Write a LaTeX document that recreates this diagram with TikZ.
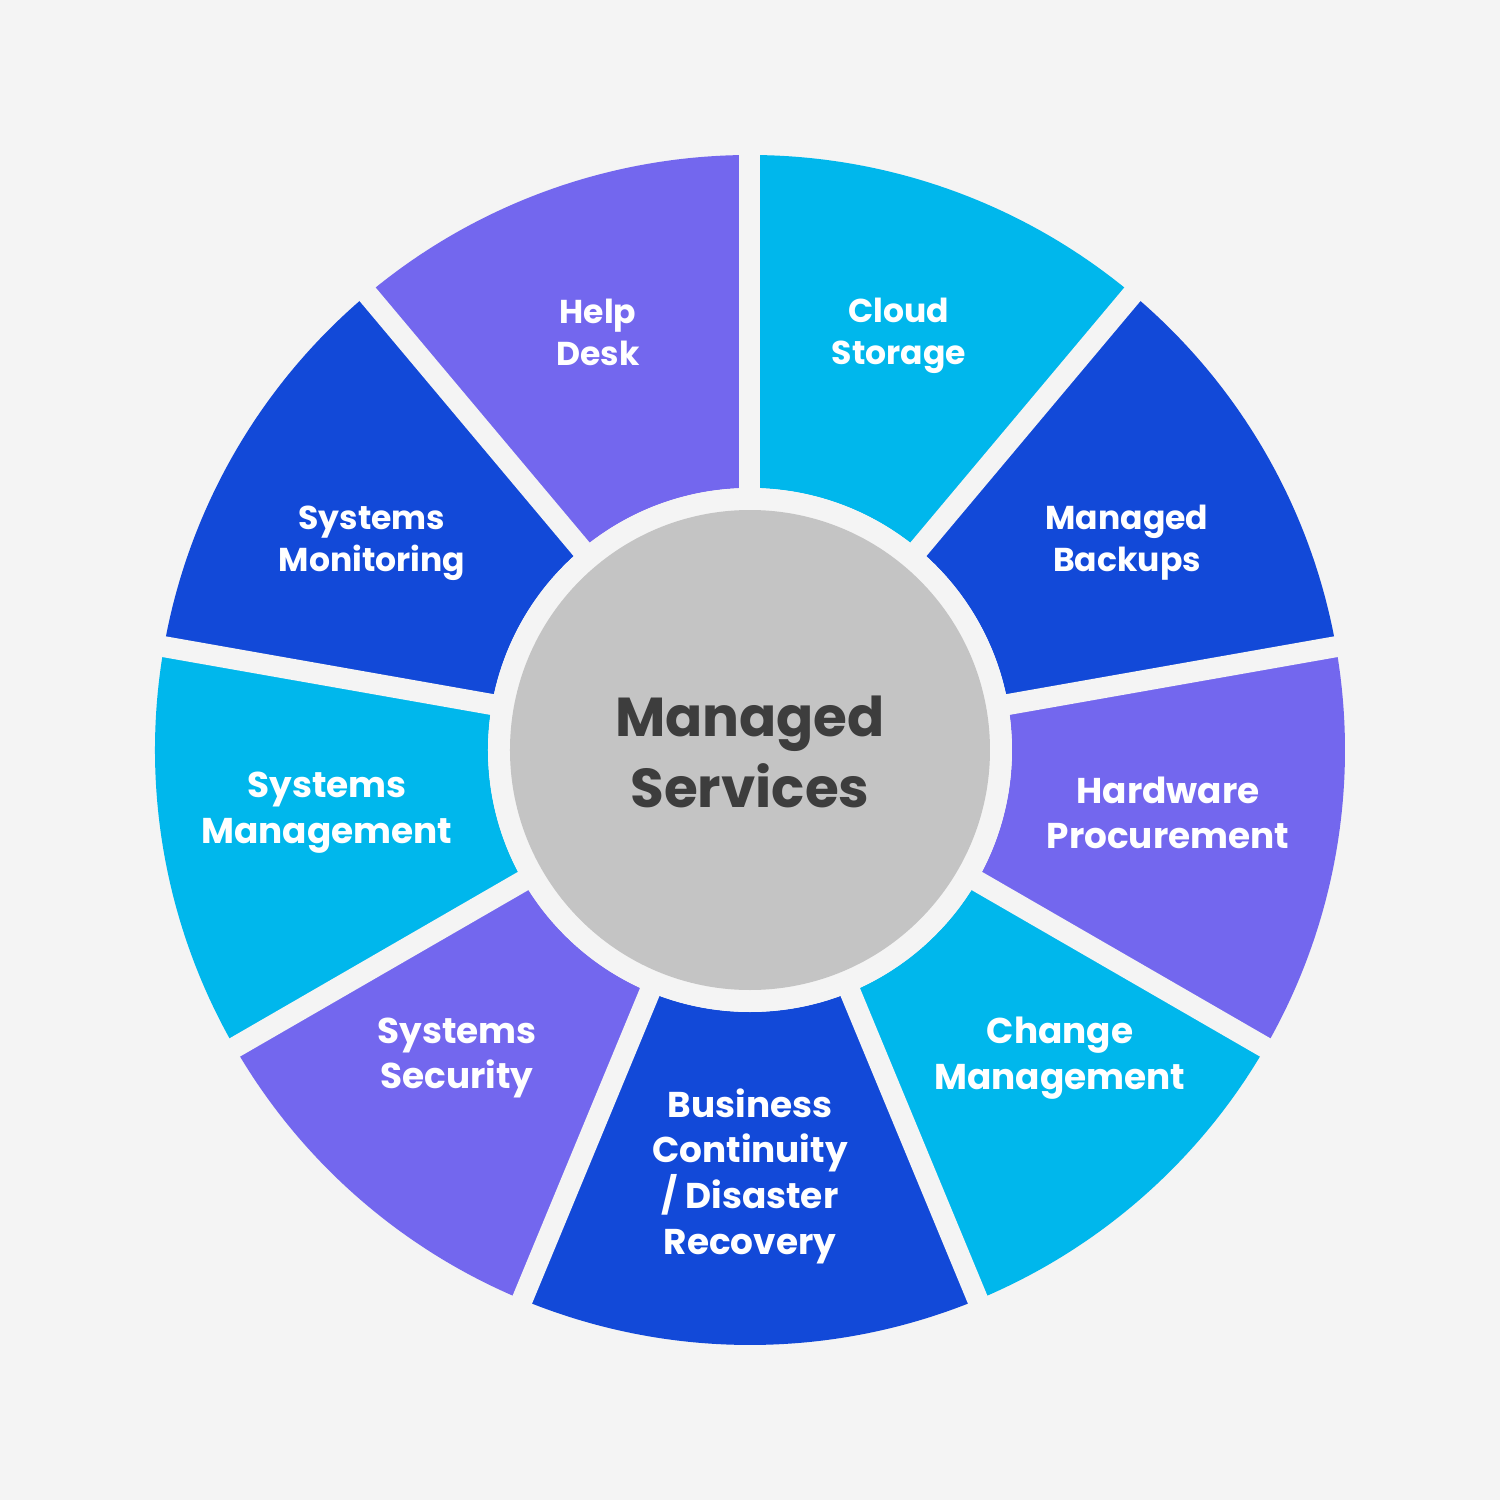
\documentclass[tikz,border=0pt]{standalone}
\usepackage{fontspec}
\setmainfont{Poppins}
\usepackage{tikz}
\usetikzlibrary{positioning,calc}
\definecolor{msBg}    {RGB}{244, 244, 244}
\definecolor{msPurple}{RGB}{115, 103, 238}
\definecolor{msCyan}  {RGB}{0,   183, 236}
\definecolor{msBlue}  {RGB}{18,   73, 216}
\definecolor{msGray}  {RGB}{196, 196, 196}
\definecolor{msText}  {RGB}{61,   61,  61}

\begin{document}
\begin{tikzpicture}[
    upperlabel/.style={font=\bfseries\fontsize{9.4}{11.9}\selectfont,text=white,align=center},
    lowerlabel/.style={font=\bfseries\fontsize{10.2}{13}\selectfont,text=white,align=center}]
        % Fundo
        \fill[msBg] (-7.5,-7.5) rectangle (7.5,7.5);
        % Setores do anel
        \fill[msCyan]   (90:5.95) arc[start angle=90,end angle=50,radius=5.95]
          -- (50:2.62) arc[start angle=50,end angle=90,radius=2.62] -- cycle;
        \fill[msBlue]   (50:5.95) arc[start angle=50,end angle=10,radius=5.95]
          -- (10:2.62) arc[start angle=10,end angle=50,radius=2.62] -- cycle;
        \fill[msPurple] (10:5.95) arc[start angle=10,end angle=-30,radius=5.95]
          -- (-30:2.62) arc[start angle=-30,end angle=10,radius=2.62] -- cycle;
        \fill[msCyan]   (-30:5.95) arc[start angle=-30,end angle=-67.5,radius=5.95]
          -- (-67.5:2.62) arc[start angle=-67.5,end angle=-30,radius=2.62] -- cycle;
        \fill[msBlue]   (-67.5:5.95) arc[start angle=-67.5,end angle=-112.5,radius=5.95]
          -- (-112.5:2.62) arc[start angle=-112.5,end angle=-67.5,radius=2.62] -- cycle;
        \fill[msPurple] (-112.5:5.95) arc[start angle=-112.5,end angle=-150,radius=5.95]
          -- (-150:2.62) arc[start angle=-150,end angle=-112.5,radius=2.62] -- cycle;
        \fill[msCyan]   (-150:5.95) arc[start angle=-150,end angle=-190,radius=5.95]
          -- (-190:2.62) arc[start angle=-190,end angle=-150,radius=2.62] -- cycle;
        \fill[msBlue]   (170:5.95) arc[start angle=170,end angle=130,radius=5.95]
          -- (130:2.62) arc[start angle=130,end angle=170,radius=2.62] -- cycle;
        \fill[msPurple] (130:5.95) arc[start angle=130,end angle=90,radius=5.95]
          -- (90:2.62) arc[start angle=90,end angle=130,radius=2.62] -- cycle;
        % Separadores
        \foreach \a in {90,50,10,-30,-67.5,-112.5,-150,-190,130}
          \draw[msBg,line width=2.1mm] (0,0) -- (\a:6.2);
        % Circulo central
        \fill[msBg] (0,0) circle (2.62);
        \fill[msGray] (0,0) circle (2.40);
        \node[font=\bfseries\fontsize{15.6}{20}\selectfont,text=msText,align=center]
          (center) at (0,-0.02) {Managed\\Services};
        % Rotulos
        \node[upperlabel] (helpdesk) at (-1.52,4.18) {Help\\Desk};
        \node[upperlabel] (cloud) at (1.49,4.14) {Cloud\\Storage};
        \node[upperlabel] (backups) at (3.77,2.07) {Managed\\Backups};
        \node[upperlabel] (monitoring) at (-3.78,2.07) {Systems\\Monitoring};
        \node[lowerlabel] (hardware) at (4.18,-0.63) {Hardware\\Procurement};
        \node[lowerlabel] (sysmgmt) at (-4.23,-0.63) {Systems\\Management};
        \node[lowerlabel] (change) at (3.10,-3.08) {Change\\Management};
        \node[lowerlabel] (security) at (-2.93,-3.08) {Systems\\Security};
        \node[lowerlabel] (continuity) at (0,-4.26) {Business\\Continuity\\/ Disaster\\Recovery};
\end{tikzpicture}
\end{document}
